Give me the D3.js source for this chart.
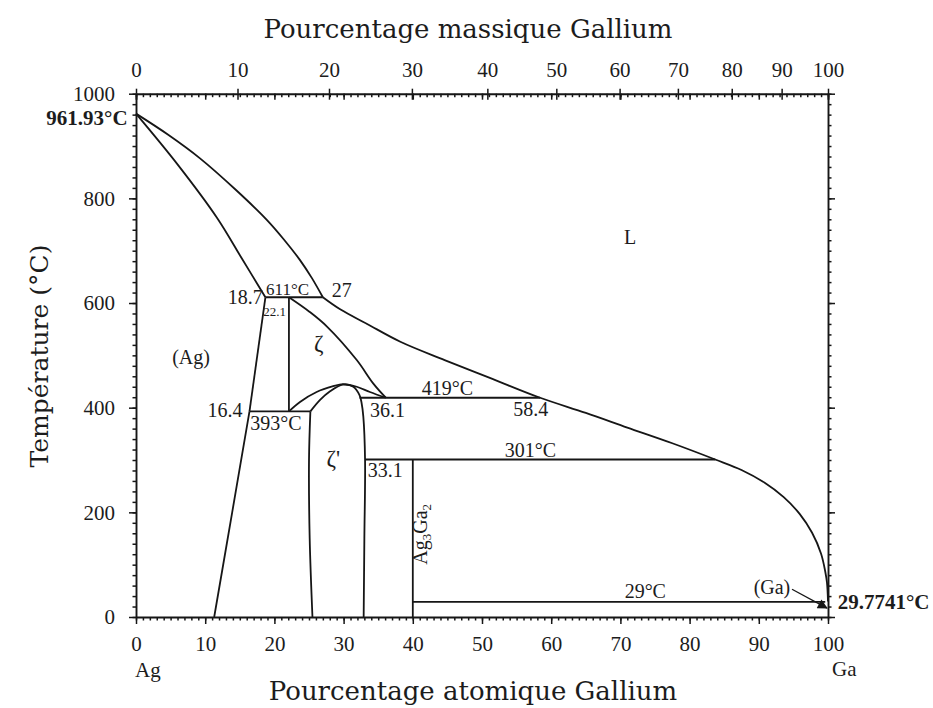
<!DOCTYPE html>
<html>
<head>
<meta charset="utf-8">
<script src="https://cdn.jsdelivr.net/npm/d3@7"></script>
<style>
  body { margin: 0; background: #fff; }
  svg text { font-family: "Liberation Serif", "Times New Roman", serif; fill: #1c1c1c; }
  svg text.title { font-family: "DejaVu Serif", serif; font-size: 26px; }
  svg text.title-v { font-family: "DejaVu Serif", serif; font-size: 25px; }
  .lbl { font-size: 20px; }
  .lbl-s { font-size: 17px; }
  .lbl-xs { font-size: 13px; }
  .lbl-b { font-size: 21px; font-weight: bold; }
  .greek { font-size: 23px; }
</style>
</head>
<body>
<svg id="chart" width="933" height="708"></svg>
<script>
// Ag–Ga binary phase diagram (temperature vs. composition)

// Axis ticks
const atTicks = d3.range(0, 101, 10);     // atomic % Ga (bottom)
const wtTicks = d3.range(0, 101, 10);     // mass % Ga (top)
const tempTicks = d3.range(0, 1001, 200); // °C

// Phase boundaries, [atomic % Ga, °C]
const liquidusAg   = [[0, 961.93], [4.6, 922], [9.25, 876.5], [14.45, 816], [18.9, 759],
                      [21.4, 721], [23.7, 682], [25.4, 648], [27, 611]];
const solidusAg    = [[0, 961.93], [6, 865], [11.7, 763], [15.3, 685], [18.7, 611]];
const liquidusGa   = [[27, 611], [29.5, 588], [33.4, 560], [38.2, 526], [44.6, 491], [51.5, 455],
                      [58.4, 419], [65, 390], [71, 362], [77.5, 332], [83.7, 301], [87.5, 281],
                      [90.8, 257], [93.6, 229], [95.9, 197], [97.7, 161], [99.0, 121],
                      [99.6, 87], [99.85, 66], [100, 29.77]];
const solvusAgHigh = [[18.7, 611], [16.4, 393]];
const solvusAgLow  = [[16.4, 393], [13.9, 200], [11.3, 0]];
const zetaLiquidus = [[22.1, 611], [25.1, 583], [27.6, 555], [31.9, 491], [34.3, 446], [36.1, 419]];
const zetaLeft     = [[22.1, 611], [22.1, 393]];
const domeOuter    = [[22.1, 393], [23.7, 411], [26.1, 430], [28.5, 441], [29.9, 445],
                      [31.9, 440], [33.8, 430], [36.1, 419]];
const domeInner    = [[25.2, 393], [26.6, 415], [28.0, 431], [29.9, 444], [31.4, 440],
                      [32.3, 424], [32.6, 409], [32.85, 383], [33.1, 301], [33.0, 150], [32.9, 0]];
const zetaPrimeLeft = [[25.2, 393], [25.0, 300], [25.1, 150], [25.5, 0]];
const ag3ga2       = [[40, 301], [40, 0]];

// Invariant reactions: [left atomic %, right atomic %, °C]
const isotherms = [[18.7, 27, 611], [16.4, 25.2, 393], [32.3, 58.4, 419], [33.1, 83.7, 301], [40, 99.6, 29]];

// Text annotations anchored in data coordinates
const annotations = [
  { text: "L",      at: 71.4, T: 713, anchor: "middle", cls: "lbl" },
  { text: "(Ag)",   at: 7.95, T: 484, anchor: "middle", cls: "lbl" },
  { text: "ζ",      at: 26.4, T: 508, anchor: "middle", cls: "greek" },
  { text: "ζ'",     at: 28.5, T: 289, anchor: "middle", cls: "greek" },
  { text: "18.7",   at: 18.3, T: 598, anchor: "end",    cls: "lbl" },
  { text: "611°C",  at: 18.8, T: 615, anchor: "start",  cls: "lbl-s" },
  { text: "22.1",   at: 18.4, T: 576, anchor: "start",  cls: "lbl-xs" },
  { text: "27",     at: 28.3, T: 612, anchor: "start",  cls: "lbl" },
  { text: "16.4",   at: 15.4, T: 382, anchor: "end",    cls: "lbl" },
  { text: "393°C",  at: 16.5, T: 358, anchor: "start",  cls: "lbl" },
  { text: "36.1",   at: 33.8, T: 382, anchor: "start",  cls: "lbl" },
  { text: "419°C",  at: 41.3, T: 424, anchor: "start",  cls: "lbl" },
  { text: "58.4",   at: 54.5, T: 384, anchor: "start",  cls: "lbl" },
  { text: "301°C",  at: 53.3, T: 306, anchor: "start",  cls: "lbl" },
  { text: "33.1",   at: 33.5, T: 268, anchor: "start",  cls: "lbl" },
  { text: "29°C",   at: 73.6, T: 36,  anchor: "middle", cls: "lbl" },
  { text: "(Ga)",   at: 91.9, T: 44,  anchor: "middle", cls: "lbl" },
  { text: "961.93°C",  at: -1.2,  T: 940, anchor: "end",   cls: "lbl-b" },
  { text: "29.7741°C", at: 101.4, T: 15,  anchor: "start", cls: "lbl-b" }
];

const svg = d3.select("#chart");
const x = d3.scaleLinear().domain([0, 100]).range([136, 828]);
const y = d3.scaleLinear().domain([0, 1000]).range([617, 93.7]);

// mass % Ga -> atomic % Ga
const M_AG = 107.8682, M_GA = 69.723;
const wtToAt = w => {
  if (w <= 0) return 0;
  if (w >= 100) return 100;
  const nGa = w / M_GA, nAg = (100 - w) / M_AG;
  return 100 * nGa / (nGa + nAg);
};

const ink = "#161616";
const styleAxis = g => {
  g.select(".domain").attr("stroke", ink).attr("stroke-width", 1.9);
  g.selectAll(".tick line").attr("stroke", ink).attr("stroke-width", 1.5);
  g.selectAll(".tick text").style("font-size", "21px").attr("fill", "#1c1c1c");
};
const noDomain = g => g.select(".domain").remove();
const fmt = d3.format("d");

// ---- bottom axis (atomic %)
svg.append("g").attr("transform", `translate(0,${y(0)})`)
  .call(d3.axisBottom(x).tickValues(d3.range(0, 101, 1)).tickSize(3.5).tickFormat(""))
  .call(noDomain).call(styleAxis);
svg.append("g").attr("transform", `translate(0,${y(0)})`)
  .call(d3.axisBottom(x).tickValues(atTicks).tickSize(7).tickSizeOuter(0).tickPadding(12).tickFormat(fmt))
  .call(styleAxis);

// ---- top axis: atomic % ticks inside, mass % ticks and labels outside
svg.append("g").attr("transform", `translate(0,${y(1000)})`)
  .call(d3.axisBottom(x).tickValues(d3.range(0, 101, 1)).tickSize(3.5).tickFormat(""))
  .call(noDomain).call(styleAxis);
svg.append("g").attr("transform", `translate(0,${y(1000)})`)
  .call(d3.axisBottom(x).tickValues(atTicks).tickSize(6).tickFormat(""))
  .call(noDomain).call(styleAxis);
svg.append("g").attr("transform", `translate(0,${y(1000)})`)
  .call(d3.axisBottom(x).tickValues(wtTicks.map(wtToAt)).tickSize(6).tickFormat(""))
  .call(noDomain).call(styleAxis);
svg.append("g").attr("transform", `translate(0,${y(1000)})`)
  .call(d3.axisTop(x).tickValues(wtTicks.map(wtToAt)).tickSize(5).tickSizeOuter(0).tickPadding(12)
    .tickFormat((d, i) => wtTicks[i]))
  .call(styleAxis);

// ---- left axis
svg.append("g").attr("transform", `translate(${x(0)},0)`)
  .call(d3.axisLeft(y).tickValues(d3.range(0, 1001, 20)).tickSize(3.5).tickFormat(""))
  .call(noDomain).call(styleAxis);
svg.append("g").attr("transform", `translate(${x(0)},0)`)
  .call(d3.axisLeft(y).tickValues(tempTicks).tickSize(7).tickSizeOuter(0).tickPadding(14).tickFormat(fmt))
  .call(styleAxis);

// ---- right axis
svg.append("g").attr("transform", `translate(${x(100)},0)`)
  .call(d3.axisRight(y).tickValues(d3.range(0, 1001, 20)).tickSize(3.5).tickFormat(""))
  .call(noDomain).call(styleAxis);
svg.append("g").attr("transform", `translate(${x(100)},0)`)
  .call(d3.axisRight(y).tickValues(tempTicks).tickSize(7).tickSizeOuter(0).tickFormat(""))
  .call(styleAxis);

// ---- phase boundaries
const smooth = d3.line().x(d => x(d[0])).y(d => y(d[1])).curve(d3.curveCatmullRom.alpha(0.5));
const straight = d3.line().x(d => x(d[0])).y(d => y(d[1]));
const boundaries = svg.append("g").attr("fill", "none").attr("stroke", ink)
  .attr("stroke-width", 1.8).attr("stroke-linejoin", "round");

[liquidusAg, solidusAg, liquidusGa, solvusAgLow, zetaLiquidus, domeOuter, domeInner, zetaPrimeLeft]
  .forEach(c => boundaries.append("path").attr("d", smooth(c)));
[solvusAgHigh, zetaLeft, ag3ga2]
  .forEach(c => boundaries.append("path").attr("d", straight(c)));
boundaries.selectAll(".iso").data(isotherms).join("line").attr("class", "iso")
  .attr("x1", d => x(d[0])).attr("x2", d => x(d[1]))
  .attr("y1", d => y(d[2])).attr("y2", d => y(d[2]));

// ---- annotations
svg.append("g").selectAll("text").data(annotations).join("text")
  .attr("class", d => d.cls)
  .attr("x", d => x(d.at)).attr("y", d => y(d.T))
  .attr("text-anchor", d => d.anchor)
  .text(d => d.text);

// Ag3Ga2 compound label, written vertically
const cmp = svg.append("text").attr("class", "lbl")
  .attr("transform", `translate(${x(42.05)},${y(158)}) rotate(-90)`)
  .attr("text-anchor", "middle");
cmp.append("tspan").text("Ag");
cmp.append("tspan").style("font-size", "13px").attr("dy", 4).text("3");
cmp.append("tspan").attr("dy", -4).text("Ga");
cmp.append("tspan").style("font-size", "13px").attr("dy", 4).text("2");

// arrow from (Ga) to the gallium melting point
svg.append("defs").append("marker")
  .attr("id", "head").attr("viewBox", "0 0 10 10").attr("refX", 9).attr("refY", 5)
  .attr("markerWidth", 14).attr("markerHeight", 10).attr("markerUnits", "userSpaceOnUse")
  .attr("orient", "auto")
  .append("path").attr("d", "M0,0 L10,5 L0,10 Z").attr("fill", ink);
svg.append("line")
  .attr("x1", x(94.8)).attr("y1", y(53))
  .attr("x2", x(99.85)).attr("y2", y(17))
  .attr("stroke", ink).attr("stroke-width", 1.3)
  .attr("marker-end", "url(#head)");

// ---- element names under the axis ends
svg.append("text").attr("class", "lbl").style("font-size", "21px").attr("x", x(0) - 1).attr("y", 677).text("Ag");
svg.append("text").attr("class", "lbl").style("font-size", "21px").attr("x", x(100) + 4).attr("y", 676).text("Ga");

// ---- axis titles
svg.append("text").attr("class", "title").attr("x", 468).attr("y", 38)
  .attr("text-anchor", "middle").text("Pourcentage massique Gallium");
svg.append("text").attr("class", "title").attr("x", 473).attr("y", 700)
  .attr("text-anchor", "middle").text("Pourcentage atomique Gallium");
svg.append("text").attr("class", "title-v")
  .attr("transform", "translate(48,356) rotate(-90)")
  .attr("text-anchor", "middle").text("Température (°C)");
</script>
</body>
</html>
